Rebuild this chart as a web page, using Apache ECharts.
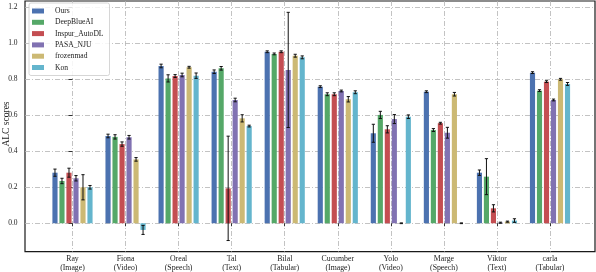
<!DOCTYPE html>
<html><head><meta charset="utf-8">
<script src="https://cdn.jsdelivr.net/npm/echarts@6/dist/echarts.min.js"></script>
<style>html,body{margin:0;padding:0;background:#fff}#c{width:596px;height:272px}</style>
</head><body><div id="c"></div>
<script>
const categories = ['Ray\n(Image)','Fiona\n(Video)','Oreal\n(Speech)','Tal\n(Text)','Bilal\n(Tabular)','Cucumber\n(Image)','Yolo\n(Video)','Marge\n(Speech)','Viktor\n(Text)','carla\n(Tabular)'];
const teams = ['Ours','DeepBlueAI','Inspur_AutoDL','PASA_NJU','frozenmad','Kon'];
const colors = ['#4C72B0','#55A868','#C44E52','#8172B2','#CCB974','#64B5CD'];
const yTicks = [0.0,0.2,0.4,0.6,0.8,1.0,1.2];
const yTitle = 'ALC scores';

const ours      = [0.281,0.485,0.874,0.842,0.953,0.759,0.500,0.731,0.281,0.837];
const deepblue  = [0.235,0.480,0.805,0.861,0.941,0.717,0.602,0.518,0.259,0.737];
const inspur    = [0.281,0.440,0.818,0.194,0.953,0.717,0.522,0.556,0.083,0.787];
const pasa      = [0.250,0.478,0.824,0.685,0.852,0.735,0.579,0.503,0.003,0.685];
const frozenmad = [0.200,0.355,0.867,0.583,0.931,0.689,0.000,0.717,0.009,0.800];
const kon       = [0.200,-0.037,0.820,0.540,0.922,0.728,0.592,0.000,0.015,0.774];

const oursErr      = [0.020,0.010,0.010,0.010,0.005,0.005,0.050,0.005,0.015,0.005];
const deepblueErr  = [0.015,0.012,0.020,0.010,0.005,0.008,0.020,0.008,0.100,0.005];
const inspurErr    = [0.025,0.012,0.008,0.290,0.005,0.008,0.020,0.005,0.020,0.005];
const pasaErr      = [0.015,0.010,0.010,0.010,0.320,0.005,0.025,0.030,0.003,0.005];
const frozenmadErr = [0.070,0.010,0.005,0.020,0.008,0.015,0.002,0.010,0.003,0.005];
const konErr       = [0.010,0.025,0.015,0.005,0.008,0.008,0.010,0.002,0.010,0.008];

const values = [ours,deepblue,inspur,pasa,frozenmad,kon];
const errs = [oursErr,deepblueErr,inspurErr,pasaErr,frozenmadErr,konErr];

const PITCH = 0.132, BW = 0.097;
const FONT = 'Liberation Serif';

function makeRender(i){
  return function(params, api){
    const xc = api.value(0) + (i-2.5)*PITCH;
    const v = api.value(1), e = api.value(2);
    const a = api.coord([xc-BW/2, 0]);
    const b = api.coord([xc+BW/2, v]);
    const lo = api.coord([xc, v-e]);
    const hi = api.coord([xc, v+e]);
    const cap = 1.6;
    return {type:'group', children:[
      {type:'rect', shape:{x:Math.min(a[0],b[0]), y:Math.min(a[1],b[1]), width:Math.abs(b[0]-a[0]), height:Math.abs(b[1]-a[1])},
       style:{fill:colors[i]}},
      {type:'line', shape:{x1:lo[0],y1:lo[1],x2:hi[0],y2:hi[1]}, style:{stroke:'#111',lineWidth:1}},
      {type:'line', shape:{x1:lo[0]-cap,y1:lo[1],x2:lo[0]+cap,y2:lo[1]}, style:{stroke:'#111',lineWidth:1}},
      {type:'line', shape:{x1:hi[0]-cap,y1:hi[1],x2:hi[0]+cap,y2:hi[1]}, style:{stroke:'#111',lineWidth:1}}
    ]};
  };
}

const series = teams.map((t,i)=>({
  name:t, type:'custom', renderItem: makeRender(i),
  itemStyle:{color:colors[i]},
  encode:{x:0,y:1},
  data: values[i].map((v,k)=>[k, v, errs[i][k]])
}));

const gridLine = {show:true, lineStyle:{color:'#b4b4b4', width:0.8, type:[5,2,1,2]}};

const chart = echarts.init(document.getElementById('c'), null, {renderer:'canvas'});
chart.setOption({
  animation:false,
  backgroundColor:'#fff',
  grid:{left:25, right:1, top:1, bottom:20.3, show:true, borderColor:'#1a1a1a', borderWidth:1.2, backgroundColor:'transparent', outerBoundsMode:'none'},
  graphic:[{
    type:'text', x:6, y:124, rotation:Math.PI/2,
    style:{text:yTitle, fontFamily:FONT, fontSize:9.5, fill:'#222', align:'center', verticalAlign:'middle'}
  }],
  legend:{
    orient:'vertical', left:29, top:3, data:teams, icon:'rect',
    itemWidth:12, itemHeight:5, itemGap:1.3,
    padding:[3,6,3,3],
    backgroundColor:'rgba(255,255,255,0.85)', borderColor:'#cccccc', borderWidth:0.8, borderRadius:2,
    textStyle:{fontFamily:FONT, fontSize:7.6, color:'#222', lineHeight:10, padding:[0,0,0,6]}
  },
  xAxis:{
    type:'value', min:-0.895, max:9.848,
    axisLine:{show:false},
    axisTick:{show:true, length:3, customValues:[0,1,2,3,4,5,6,7,8,9], lineStyle:{color:'#333'}},
    axisLabel:{customValues:[0,1,2,3,4,5,6,7,8,9], formatter:(v)=>categories[Math.round(v)],
      fontFamily:FONT, fontSize:7.8, color:'#222', lineHeight:8.5, margin:3, hideOverlap:false},
    splitLine:gridLine
  },
  yAxis:{
    type:'value', min:-0.158, max:1.235,
    axisLine:{show:false},
    axisTick:{show:true, length:4, customValues:yTicks, lineStyle:{color:'#333'}},
    axisLabel:{customValues:yTicks, formatter:(v)=>v.toFixed(1), fontFamily:FONT, fontSize:7.5, color:'#222', margin:7.5,
      hideOverlap:false, showMinLabel:true, showMaxLabel:true},
    splitLine:gridLine
  },
  series: series
});
</script></body></html>
